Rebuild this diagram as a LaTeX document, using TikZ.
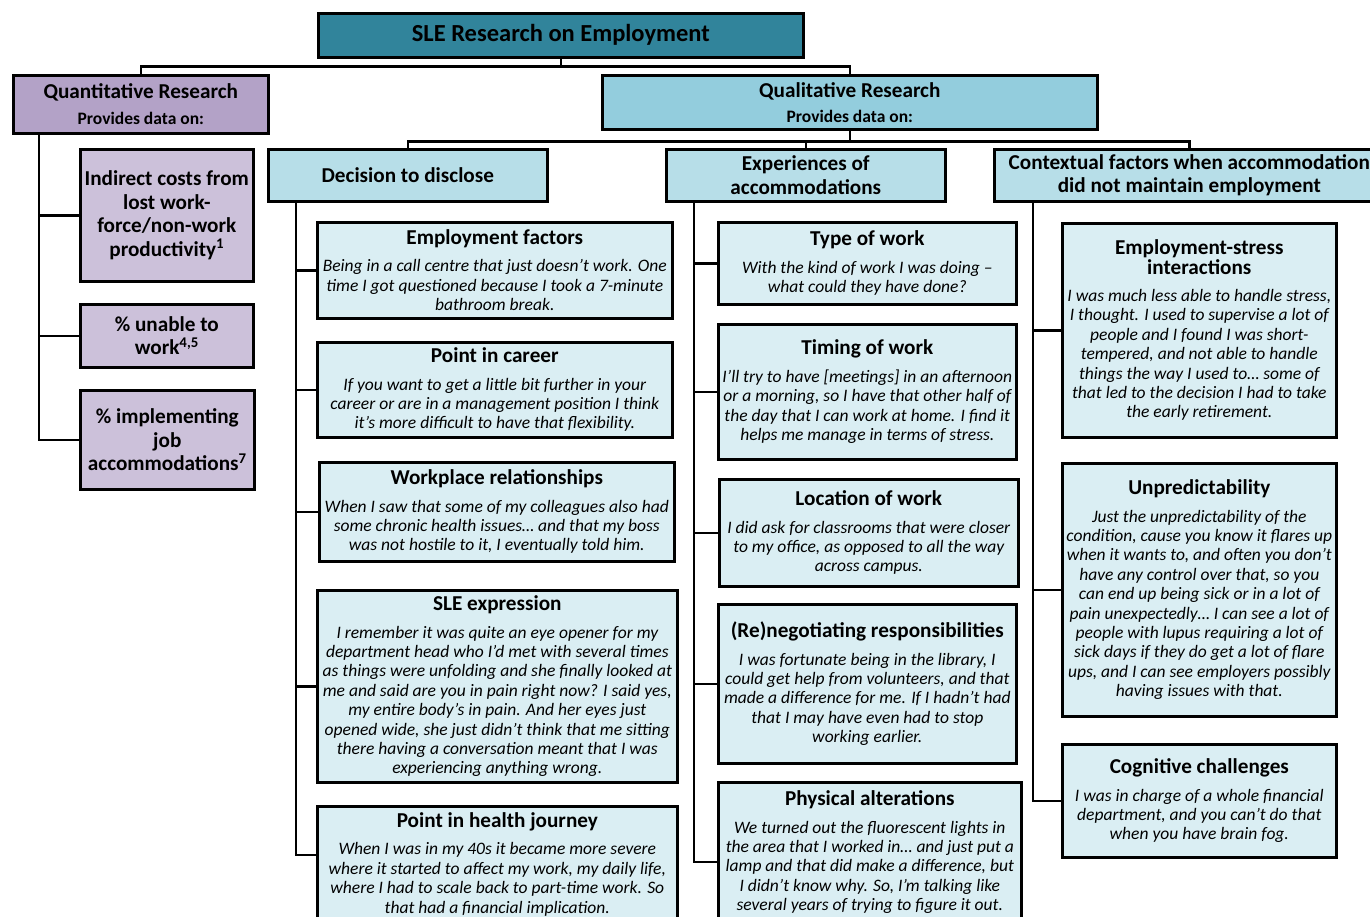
\documentclass[tikz,border=0pt]{standalone}
\usepackage{fontspec}
\setmainfont{Carlito}
\definecolor{ttl}{HTML}{31849B}
\definecolor{qnt}{HTML}{B3A2C7}
\definecolor{qnts}{HTML}{CCC1DA}
\definecolor{qlt}{HTML}{93CDDD}
\definecolor{lvl}{HTML}{B7DEE8}
\definecolor{lf}{HTML}{DAEEF3}
\newcommand\qfont{\fontsize{17.5}{19.4}\selectfont\itshape}
\newcommand\tfont{\fontsize{21.2}{23.5}\selectfont\bfseries\upshape}
\newcommand\hfont{\fontsize{21.2}{23.5}\selectfont\bfseries}
\newcommand\sfont{\fontsize{21.2}{23.5}\selectfont\bfseries}
\newcommand\pfont{\fontsize{17.5}{19}\selectfont\bfseries}
\tikzset{
  bx/.style={draw=black, line width=2.6pt, anchor=north west, align=center, inner sep=1pt},
  leafbox/.style={bx, fill=lf, font=\qfont},
  lvlbox/.style={bx, fill=lvl, font=\hfont},
  subq/.style={bx, fill=qnts, font=\sfont},
  conn/.style={draw=black, line width=2.6pt},
}
\begin{document}
\begin{tikzpicture}[x=1pt,y=-1pt]
\useasboundingbox (0,0) rectangle (1370,917);
\clip (0,0) rectangle (1370,917);
\fill[white] (0,0) rectangle (1370,917);

% top
\node[bx, fill=ttl, minimum width=485, minimum height=44, font=\fontsize{24.5}{28}\selectfont\bfseries] (title) at (317,12) {SLE Research on Employment};
\node[bx, fill=qnt, minimum width=255, minimum height=58, inner ysep=0pt] (quant) at (12,74)
  {{\hfont Quantitative Research}\\[10pt]{\pfont Provides data on:}};
\node[bx, fill=qlt, minimum width=495, minimum height=54, inner ysep=0pt] (qual) at (601,74)
  {{\hfont Qualitative Research}\\[9pt]{\pfont Provides data on:}};

% quantitative children
\node[subq, minimum width=173, minimum height=132] (ind) at (79,148)
  {Indirect costs from\\lost work-\\force/non-work\\productivity\textsuperscript{1}};
\node[subq, minimum width=173, minimum height=63] (unable) at (79,303)
  {\% unable to\\work\textsuperscript{4,5}};
\node[subq, minimum width=174, minimum height=99] (impl) at (79,389)
  {\% implementing\\job\\accommodations\textsuperscript{7}};

% level 2
\node[lvlbox, minimum width=279, minimum height=52] (dec) at (267,148) {Decision to disclose};
\node[lvlbox, minimum width=279, minimum height=52] (exp) at (665,148) {Experiences of\\accommodations};
\node[lvlbox, minimum width=390, minimum height=52] (ctx) at (993,148) {Contextual factors when accommodation\\did not maintain employment};

% decision leaves
\node[leafbox, minimum width=355, minimum height=96] (ef) at (316,221)
  {{\tfont Employment factors}\\[8pt]
   Being in a call centre that just doesn’t work. One\\
   time I got questioned because I took a 7-minute\\
   bathroom break.};
\node[leafbox, minimum width=355, minimum height=95] (pc) at (316,341)
  {{\tfont Point in career}\\[8pt]
   If you want to get a little bit further in your\\
   career or are in a management position I think\\
   it’s more difficult to have that flexibility.};
\node[leafbox, minimum width=355, minimum height=99] (wr) at (318,461)
  {{\tfont Workplace relationships}\\[8pt]
   When I saw that some of my colleagues also had\\
   some chronic health issues… and that my boss\\
   was not hostile to it, I eventually told him.};
\node[leafbox, minimum width=360, minimum height=192] (se) at (316,589)
  {{\tfont SLE expression}\\[8pt]
   I remember it was quite an eye opener for my\\
   department head who I’d met with several times\\
   as things were unfolding and she finally looked at\\
   me and said are you in pain right now? I said yes,\\
   my entire body’s in pain. And her eyes just\\
   opened wide, she just didn’t think that me sitting\\
   there having a conversation meant that I was\\
   experiencing anything wrong.};
\node[leafbox, minimum width=360, minimum height=116] (ph) at (316,805)
  {{\tfont Point in health journey}\\[8pt]
   When I was in my 40s it became more severe\\
   where it started to affect my work, my daily life,\\
   where I had to scale back to part-time work. So\\
   that had a financial implication.};

% experiences leaves
\node[leafbox, minimum width=298, minimum height=82] (tw) at (717,221)
  {{\tfont Type of work}\\[8pt]
   With the kind of work I was doing –\\
   what could they have done?};
\node[leafbox, minimum width=298, minimum height=135] (tm) at (717,323)
  {{\tfont Timing of work}\\[8pt]
   I’ll try to have [meetings] in an afternoon\\
   or a morning, so I have that other half of\\
   the day that I can work at home. I find it\\
   helps me manage in terms of stress.};
\node[leafbox, minimum width=299, minimum height=107] (lw) at (718,478)
  {{\tfont Location of work}\\[8pt]
   I did ask for classrooms that were closer\\
   to my office, as opposed to all the way\\
   across campus.};
\node[leafbox, minimum width=298, minimum height=159] (rn) at (717,603)
  {{\tfont (Re)negotiating responsibilities}\\[8pt]
   I was fortunate being in the library, I\\
   could get help from volunteers, and that\\
   made a difference for me. If I hadn’t had\\
   that I may have even had to stop\\
   working earlier.};
\node[leafbox, minimum width=303, minimum height=140] (pa) at (717,781)
  {{\tfont Physical alterations}\\[8pt]
   We turned out the fluorescent lights in\\
   the area that I worked in… and just put a\\
   lamp and that did make a difference, but\\
   I didn’t know why. So, I’m talking like\\
   several years of trying to figure it out.};

% contextual leaves
\node[leafbox, minimum width=274, minimum height=214] (es) at (1061,222)
  {{\tfont Employment-stress}\\{\tfont interactions}\\[8pt]
   I was much less able to handle stress,\\
   I thought. I used to supervise a lot of\\
   people and I found I was short-\\
   tempered, and not able to handle\\
   things the way I used to… some of\\
   that led to the decision I had to take\\
   the early retirement.};
\node[leafbox, minimum width=274, minimum height=253] (up) at (1061,462)
  {{\tfont Unpredictability}\\[8pt]
   Just the unpredictability of the\\
   condition, cause you know it flares up\\
   when it wants to, and often you don’t\\
   have any control over that, so you\\
   can end up being sick or in a lot of\\
   pain unexpectedly… I can see a lot of\\
   people with lupus requiring a lot of\\
   sick days if they do get a lot of flare\\
   ups, and I can see employers possibly\\
   having issues with that.};
\node[leafbox, minimum width=274, minimum height=113] (cc) at (1061,743)
  {{\tfont Cognitive challenges}\\[8pt]
   I was in charge of a whole financial\\
   department, and you can’t do that\\
   when you have brain fog.};

% connectors
\draw[conn] (title.south) -- ++(0,8) -| (quant.north);
\draw[conn] (title.south) -- ++(0,8) -| (qual.north);
\draw[conn] (qual.south) -- ++(0,11) -| (dec.north);
\draw[conn] (qual.south) -- ++(0,11) -| (exp.north);
\draw[conn] (qual.south) -- ++(0,11) -| (ctx.north);

\foreach \c in {ind,unable,impl} \draw[conn] ([xshift=27pt]quant.south west) |- (\c.west);
\foreach \c in {ef,pc,wr,se} \draw[conn] ([xshift=29pt]dec.south west) |- (\c.west);
\draw[conn] ([xshift=29pt]dec.south west) |- ([yshift=-50pt]ph.north west);
\foreach \c in {tw,tm,lw,rn} \draw[conn] ([xshift=29pt]exp.south west) |- (\c.west);
\draw[conn] ([xshift=29pt]exp.south west) |- ([yshift=-81pt]pa.north west);
\foreach \c in {es,up,cc} \draw[conn] ([xshift=40pt]ctx.south west) |- (\c.west);
\end{tikzpicture}
\end{document}
